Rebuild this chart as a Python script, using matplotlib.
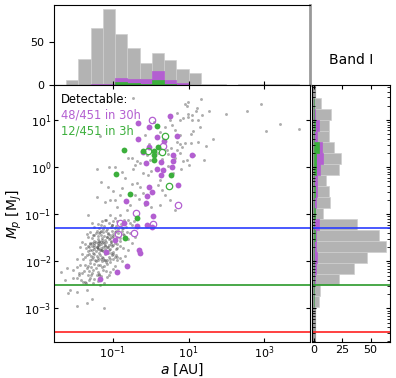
import numpy as np
import matplotlib
matplotlib.use("Agg")
import matplotlib.pyplot as plt

# ---------------- data (log10 of a [AU], log10 of Mp [MJ]) ----------------
gray_log_a = [-0.46, 0.95, 0.90, 0.99, 1.33, 1.23, 0.98, 1.08, 0.99, 1.08, 1.24, 0.78,
              2.55, 2.91, 3.41, 3.05, 3.90, 1.11, 1.07, 1.64, 0.91, 1.06, 0.82, 0.78, 0.78,
              -1.34, -1.41, -1.31, -1.42, -0.94, -1.12, -0.89, -0.50, -0.37, -0.28, -0.63,
              -0.59, -0.19, -0.06, 0.25, -0.28, -0.46, 0.78, 0.95, 0.69, 0.69, 1.26, 0.38,
              0.56, 0.64, 0.25, -0.15, 0.43, -0.02, 0.20, 0.38, 0.51, 0.64, 0.25, -0.15,
              -0.81, -1.07, -1.65, -0.41, -0.68, -0.49,
              -1.07, -0.94, -1.20, -1.03, -0.76, -0.63, -1.34, -1.69, -1.51, -1.16, -1.03,
              -1.25, -1.60, -1.82, -1.86, -1.42, -1.12, -0.89, -1.34, -1.16, -1.51, -1.03,
              -1.29, -0.89, -1.69, -1.78, -1.47, -1.20, -1.07, -1.60, -1.38, -1.86, -2.04,
              -1.69, -1.51, -1.25, -1.07, -1.82, -1.64, -1.42, -1.16, -1.95, -1.60, -1.78,
              -1.51, -1.34, -2.12, -1.95, -1.69, -2.21, -2.26, -2.35, -0.59, -0.50, -0.41,
              -0.72, -0.54, -0.81, -2.17, -1.93, -1.67, -1.23, -1.73]
gray_log_m = [1.47, 1.30, 1.34, 1.39, 1.44, 1.25, 1.13, 1.10, 1.06, 0.99, 1.00, 0.99,
              1.20, 1.34, 0.91, 0.77, 0.80, 0.77, 0.70, 0.60, 0.51, 0.52, 0.43, 0.68, 0.48,
              0.65, -0.03, -0.31, -0.64, 0.00, -0.43, -0.84, -0.36, -0.34, -0.43, -0.91,
              -1.12, -0.13, -0.17, -0.27, 0.09, -0.03, 0.29, 0.15, 0.54, 0.36, 0.54, 0.85,
              0.89, 0.79, 0.75, 0.68, 0.36, 0.15, -0.38, -0.59, -0.70, -0.91, -0.80, -0.80,
              -0.59, -0.70, -1.02, -0.59, -0.23, 0.19,
              -1.02, -1.09, -1.12, -1.23, -1.30, -1.37, -1.37, -1.41, -1.44, -1.48, -1.48,
              -1.58, -1.61, -1.60, -1.69, -1.69, -1.69, -1.72, -1.76, -1.80, -1.83, -1.87,
              -1.90, -1.90, -1.87, -1.94, -1.97, -1.97, -2.01, -2.04, -2.08, -2.08, -2.18,
              -2.15, -2.18, -2.18, -2.22, -2.25, -2.29, -2.29, -2.33, -2.36, -2.36, -2.43,
              -2.47, -2.50, -2.61, -2.65, -2.61, -2.15, -2.40, -2.22, -1.76, -1.62, -1.48,
              -1.41, -1.19, -1.02, -2.68, -2.95, -2.89, -2.98, -2.43]

# more gray planets, (log10 a, log10 Mp) pairs, low-mass cluster
gray_cluster_pts = [
    (-1.55, -2.80), (-1.88, -2.30), (-1.70, -2.45), (-1.48, -2.38), (-1.40, -2.42),
    (-1.30, -2.32), (-1.58, -2.28), (-1.83, -2.40), (-1.22, -2.45), (-1.62, -2.40),
    (-1.36, -2.30), (-2.05, -2.35), (-1.10, -2.28),
    (-1.95, -2.12), (-1.75, -2.20), (-1.65, -2.10), (-1.55, -2.25), (-1.45, -2.15),
    (-1.40, -2.22), (-1.33, -2.08), (-1.28, -2.13), (-1.18, -2.20), (-1.14, -2.06),
    (-1.00, -2.16), (-0.95, -2.10), (-1.48, -2.06), (-1.58, -2.13), (-1.72, -2.07),
    (-1.90, -2.24), (-1.35, -2.26), (-1.22, -2.10), (-0.85, -2.20), (-1.62, -2.20),
    (-1.62, -1.85), (-1.55, -1.95), (-1.42, -1.88), (-1.38, -1.98), (-1.35, -1.83),
    (-1.25, -1.92), (-1.20, -1.85), (-1.15, -1.98), (-1.10, -1.90), (-1.05, -1.82),
    (-0.98, -1.95), (-0.92, -1.86), (-0.80, -1.92), (-0.75, -2.00), (-1.45, -2.00),
    (-1.60, -1.98), (-1.72, -1.90), (-1.80, -1.84), (-1.30, -1.95), (-1.18, -2.02),
    (-1.00, -1.84), (-1.33, -1.86), (-1.48, -1.84), (-1.12, -1.83), (-1.40, -1.93),
    (-0.88, -1.98), (-1.58, -1.89), (-1.27, -2.00), (-1.08, -1.95), (-0.68, -1.88),
    (-1.95, -1.95), (-1.52, -1.90), (-1.22, -1.97), (-0.95, -1.90),
    (-1.50, -1.70), (-1.35, -1.65), (-1.05, -1.60), (-1.28, -1.75), (-1.20, -1.68),
    (-1.38, -1.62), (-1.45, -1.78), (-1.08, -1.73), (-0.98, -1.66), (-1.30, -1.64),
    (-1.18, -1.59), (-1.55, -1.77), (-1.62, -1.70), (-1.72, -1.63), (-1.00, -1.80),
    (-0.80, -1.67), (-0.95, -1.61), (-1.38, -1.74), (-1.25, -1.69), (-1.48, -1.65),
    (-1.70, -1.72), (-1.18, -1.78), (-1.55, -1.62), (-1.10, -1.66), (-0.72, -1.71),
    (-1.43, -1.60), (-1.32, -1.76), (-1.02, -1.68), (-1.60, -1.64), (-1.48, -1.73),
    (-1.65, -1.79), (-1.22, -1.62), (-1.15, -1.70), (-1.40, -1.66), (-0.92, -1.74),
    (-1.30, -1.60), (-1.10, -1.77), (-1.55, -1.68), (-0.88, -1.63), (-1.30, -1.72),
    (-1.20, -1.65), (-1.60, -1.75), (-1.50, -1.61), (-1.42, -1.69), (-1.25, -1.78),
    (-1.05, -1.64), (-1.38, -1.71), (-1.65, -1.67), (-1.35, -1.59), (-1.20, -1.74),
    (-1.45, -1.40), (-1.38, -1.52), (-1.30, -1.45), (-1.25, -1.38), (-1.20, -1.55),
    (-1.12, -1.42), (-1.08, -1.50), (-1.02, -1.36), (-0.98, -1.46), (-0.92, -1.55),
    (-0.85, -1.40), (-0.80, -1.50), (-0.75, -1.36), (-0.70, -1.45), (-1.55, -1.50),
    (-1.60, -1.38), (-1.48, -1.56), (-1.35, -1.40), (-1.28, -1.54), (-1.18, -1.36),
    (-1.15, -1.48), (-1.05, -1.56), (-0.95, -1.38), (-0.88, -1.48), (-1.40, -1.46),
    (-1.32, -1.35), (-1.22, -1.47), (-1.10, -1.53), (-1.00, -1.42), (-0.90, -1.35),
    (-0.82, -1.57), (-1.50, -1.44), (-1.42, -1.36), (-1.27, -1.50), (-1.13, -1.39),
    (-0.60, -1.52), (-0.55, -1.40), (-1.65, -1.48), (-1.37, -1.57), (-1.06, -1.44),
    (-1.40, -1.20), (-1.35, -1.30), (-1.28, -1.15), (-1.22, -1.25), (-1.15, -1.32),
    (-1.10, -1.18), (-1.05, -1.28), (-0.98, -1.15), (-0.92, -1.25), (-0.85, -1.32),
    (-0.78, -1.20), (-0.70, -1.12), (-0.65, -1.28), (-0.50, -1.22), (-1.48, -1.28),
    (-1.30, -1.22), (-1.18, -1.12), (-1.02, -1.22), (-0.88, -1.14), (-0.72, -1.30),
    (-1.55, -1.18), (-1.25, -1.32), (-0.95, -1.30), (-0.45, -1.15),
]
# more gray planets, (log10 a, log10 Mp) pairs, giant planets
gray_giant_pts = [
    (-1.20, -0.75), (-0.95, -0.70), (-0.30, -0.68), (0.00, -0.85), (-0.55, -0.80),
    (-1.00, -0.50), (-0.75, -0.45), (-0.20, -0.55), (0.30, -0.48),
    (-1.10, 0.00), (-0.75, -0.10), (-0.40, 0.05), (0.00, -0.08), (0.45, 0.02),
    (0.80, -0.05), (1.00, 0.05), (0.60, -0.12),
    (-0.60, 0.20), (-0.10, 0.25), (0.30, 0.18), (0.45, 0.28), (0.85, 0.12),
    (1.15, 0.25), (1.40, 0.15), (0.65, 0.20), (-0.35, 0.12), (0.20, 0.30),
    (0.55, 0.40), (1.45, 0.45), (-0.05, 0.50),
    (0.10, 0.95), (1.30, 0.85), (0.50, 1.00),
    (0.70, 1.15), (1.35, 1.10), (1.55, 1.20), (0.85, 1.05), (1.20, 1.18), (2.00, 1.12),
]

purple_log_a = [-0.32, -0.04, 0.51, 0.70, -0.32, -0.04, 0.16, 0.36, -0.19, -0.13, 0.27, 0.58,
                0.60, 1.10, 0.16, 0.32, 0.56, 0.27, -0.04, 0.03, -0.09, -0.65, -0.13, 0.72,
                0.06, -0.69, -0.37, -0.10, 0.03, -0.94, -1.18, -0.30, -0.28, -0.63, -0.89, -1.34]
purple_log_m = [0.94, 0.85, 1.08, 0.65, 0.59, 0.43, 0.63, 0.55, 0.33, 0.09, 0.11, 0.26,
                0.13, 0.26, -0.03, -0.06, 0.00, -0.17, -0.42, -0.52, -0.61, -0.73, -0.76, -0.38,
                -1.04, -1.18, -1.24, -1.23, -1.27, -1.55, -1.81, -1.76, -1.83, -2.09, -2.22, -2.38]
purple_open_log_a = [0.03, 0.32, 0.73, -0.39, -0.81, -0.87, -0.44, 0.06]
purple_open_log_m = [1.01, 0.45, -0.80, -0.98, -1.19, -1.41, -1.39, -1.21]
green_log_a = [0.16, -0.70, -0.19, 0.09, 0.20, 0.10, -0.91, 0.54, -0.54, -0.35, -0.68, 0.08]
green_log_m = [0.87, 0.36, 0.35, 0.35, 0.43, 0.15, -0.15, -0.17, -0.57, -1.07, -1.50, 0.25]
green_open_log_a = [0.38, -0.08, 0.31, 0.49]
green_open_log_m = [0.67, 0.35, 0.33, -0.40]

# top histogram (a), bins in log10(a)
a_bin_start, a_bin_width = -2.232, 0.3237
a_all_counts = [5, 30, 66, 88, 59, 42, 25, 37, 29, 18, 13, 1, 1, 0, 1, 1, 1, 1, 1]
a_30h_counts = [0, 0, 1, 1, 8, 7, 7, 16, 5, 2, 0, 0, 0, 0, 0, 0, 0, 0, 0]
a_3h_counts = [0, 0, 0, 0, 3, 2, 1, 5, 1, 0, 0, 0, 0, 0, 0, 0, 0, 0, 0]
hist_count_ticks = [0, 50]

# right histogram (Mp), bins in log10(Mp), bottom to top
m_bin_start, m_bin_width = -2.97, 0.233
m_all_counts = [4, 5, 22, 35, 47, 64, 57, 38, 8, 14, 13, 11, 22, 24, 18, 13, 13, 15, 6]
m_30h_counts = [0, 0, 1, 2, 3, 2, 2, 4, 1, 2, 3, 3, 5, 8, 7, 3, 4, 1, 0]
m_3h_counts = [0, 0, 0, 0, 0, 0, 1, 0, 1, 0, 1, 0, 2, 2, 4, 0, 1, 0, 0]
right_count_ticks = [0, 25, 50]

# detection limits (MJ)
limit_blue, limit_green, limit_red = 0.052, 0.0031, 0.00032

n_total, n_30h, n_3h = 451, 48, 12

# ---------------- styling ----------------
PURPLE = "#b35fd1"
GREEN = "#3caf3c"
HGRAY = "#b3b3b3"

fig = plt.figure(figsize=(3.96, 3.78), dpi=100)
axt = fig.add_axes([0.137, 0.776, 0.646, 0.211])
ax = fig.add_axes([0.137, 0.0952, 0.646, 0.680])
axr = fig.add_axes([0.788, 0.0952, 0.197, 0.680])

# ---- top histogram (built first, like a plain histogram panel) ----
a_edges = 10 ** (a_bin_start + a_bin_width * np.arange(len(a_all_counts) + 1))
axt.set_xscale("log")
for counts, col in [(a_all_counts, HGRAY), (a_30h_counts, PURPLE), (a_3h_counts, GREEN)]:
    axt.bar(a_edges[:-1], counts, width=np.diff(a_edges), align="edge", color=col,
            edgecolor="#cfcfcf" if col == HGRAY else col, linewidth=0.5)
axt.set_ylim(0, 92.4)
axt.set_yticks(hist_count_ticks)
axt.tick_params(axis="y", labelsize=8)
axt.set_xlim(2.88e-3, 1.6e4)
axt.set_xticks([1e-1, 1e1, 1e3])
axt.set_xticks([], minor=True)
axt.tick_params(axis="x", direction="in", labelbottom=False, length=3)
axt.spines["right"].set_color("#999999")
axt.spines["right"].set_linewidth(2)

# ---- scatter ----
g_a = 10 ** np.array(list(gray_log_a) + [p[0] for p in gray_cluster_pts + gray_giant_pts])
g_m = 10 ** np.array(list(gray_log_m) + [p[1] for p in gray_cluster_pts + gray_giant_pts])
ax.plot(g_a, g_m, ".", color="#3c3c3c", alpha=0.42, ms=4.2, mew=0)
ax.plot(10 ** np.array(purple_log_a), 10 ** np.array(purple_log_m), "o", color=PURPLE, ms=4.2, mew=0)
ax.plot(10 ** np.array(purple_open_log_a), 10 ** np.array(purple_open_log_m), "o",
        mfc="none", mec=PURPLE, ms=4.6, mew=0.9)
ax.plot(10 ** np.array(green_log_a), 10 ** np.array(green_log_m), "o", color=GREEN, ms=4.2, mew=0)
ax.plot(10 ** np.array(green_open_log_a), 10 ** np.array(green_open_log_m), "o",
        mfc="none", mec=GREEN, ms=4.6, mew=0.9)

for lim, c in [(limit_blue, "#2a3cff"), (limit_green, "#2a9a2a"), (limit_red, "#ff2020")]:
    ax.axhline(lim, color=c, lw=1.2)
    axr.axhline(lim, color=c, lw=1.2)

ax.set_xscale("log")
ax.set_yscale("log")
ax.set_xlim(2.88e-3, 1.6e4)
ax.set_ylim(1.94e-4, 55.3)
ax.set_xticks([1e-1, 1e1, 1e3])
ax.set_yticks([1e-3, 1e-2, 1e-1, 1e0, 1e1])
ax.set_xticks([], minor=True)
ax.set_yticks([], minor=True)
ax.tick_params(direction="in", top=True, right=True, labelsize=8, length=3, pad=2)
ax.set_xlabel("$a$ [AU]", fontsize=10, labelpad=0)
ax.set_ylabel("$M_p$ [M$_J$]", fontsize=10, labelpad=0)

ax.text(0.027, 0.968, "Detectable:", transform=ax.transAxes, fontsize=8.3, va="top", color="black")
ax.text(0.027, 0.908, f"{n_30h}/{n_total} in 30h", transform=ax.transAxes, fontsize=8.3, va="top", color=PURPLE)
ax.text(0.027, 0.848, f"{n_3h}/{n_total} in 3h", transform=ax.transAxes, fontsize=8.3, va="top", color=GREEN)

# ---- right histogram ----
m_edges = 10 ** (m_bin_start + m_bin_width * np.arange(len(m_all_counts) + 1))
axr.set_yscale("log")
for counts, col in [(m_all_counts, HGRAY), (m_30h_counts, PURPLE), (m_3h_counts, GREEN)]:
    axr.barh(m_edges[:-1], counts, height=np.diff(m_edges), align="edge", color=col,
             edgecolor="#cfcfcf" if col == HGRAY else col, linewidth=0.5)
axr.set_ylim(1.94e-4, 55.3)
axr.set_xlim(-1.7, 67.2)
axr.set_xticks(right_count_ticks)
axr.tick_params(which="both", direction="in", top=True, right=True, left=True,
                labelsize=8, labelleft=False, length=3, pad=2)
axr.tick_params(which="minor", length=2)
axr.axvline(0, color="#999999", lw=3, zorder=0.5)

fig.text(0.886, 0.841, "Band I", fontsize=10, ha="center", va="center")

fig.savefig("out.png", dpi=100)
